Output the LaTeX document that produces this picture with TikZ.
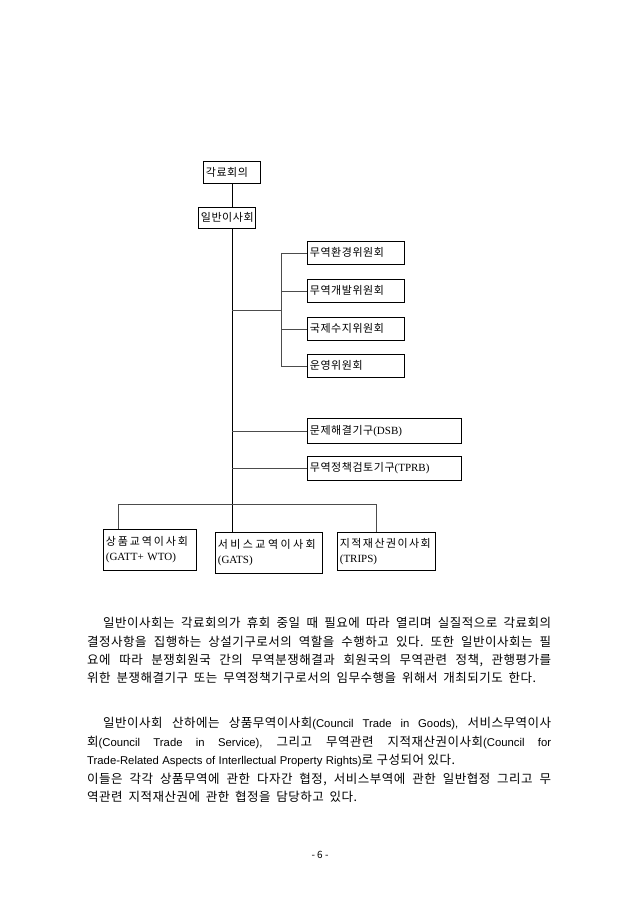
\documentclass[tikz,border=0pt]{standalone}
\usepackage{fontspec}
\setmainfont{Noto Sans CJK KR}
\newfontfamily\latsans{Liberation Sans}
\newfontfamily\latserif{Liberation Serif}
\newcommand\lt[1]{{\latsans\fontsize{11.3}{18}\selectfont #1}}
\newcommand\lb[1]{{\latserif #1}}
\frenchspacing
\begin{document}
\begin{tikzpicture}[x=1pt,y=-1pt,
  box/.style={draw=black, line width=0.7pt, anchor=north west, inner xsep=2.5pt, inner ysep=0pt,
              align=left, font=\fontsize{11}{15}\selectfont\addfontfeature{LetterSpace=5}},
  conn/.style={line width=0.7pt, draw=black!70},
  trunk/.style={line width=0.7pt, draw=black},
  pline/.style={anchor=base west, inner sep=0pt, font=\fontsize{12.5}{18}\selectfont\addfontfeature{LetterSpace=4}},
]
\useasboundingbox (0,0) rectangle (640,905);

% boxes
\node[box, text width=52pt, minimum height=22pt] (a) at (203,161) {각료회의};
\node[box, text width=52pt, minimum height=21pt] (b) at (198,207) {일반이사회};
\node[box, text width=92pt, minimum height=23pt] (c1) at (307,241) {무역환경위원회};
\node[box, text width=92pt, minimum height=23pt] (c2) at (307,279) {무역개발위원회};
\node[box, text width=92pt, minimum height=23pt] (c3) at (307,317) {국제수지위원회};
\node[box, text width=92pt, minimum height=23pt] (c4) at (307,354) {운영위원회};
\node[box, text width=149pt, minimum height=25pt] (d) at (307,418) {문제해결기구\lb{(DSB)}};
\node[box, text width=149pt, minimum height=24pt] (t) at (307,456) {무역정책검토기구\lb{(TPRB)}};
\node[box, text width=88pt, minimum height=41pt] (g) at (103,529)
  {{\addfontfeature{LetterSpace=17}상품교역이사회}\\\lb{(GATT+ WTO)}};
\node[box, text width=102pt, minimum height=41pt] (s) at (215,532)
  {{\addfontfeature{LetterSpace=22}서비스교역이사회}\\\lb{(GATS)}};
\node[box, text width=93pt, minimum height=38pt] (r) at (337,532)
  {{\addfontfeature{LetterSpace=13}지적재산권이사회}\\\lb{(TRIPS)}};

% connectors
\coordinate (tr) at (232,0);
\coordinate (sb) at (281,0);
\coordinate (jc) at (232,310);
\coordinate (bl) at (118,504);
\coordinate (brr) at (376,504);
\draw[trunk] (a.south) -- (a.south |- b.north);
\draw[trunk] (tr |- b.south) -- (tr |- s.north);
\draw[conn] (jc) -- (jc -| sb);
\draw[conn] (sb |- c1.west) -- (sb |- c4.west);
\foreach \n in {c1,c2,c3,c4} \draw[conn] (sb |- \n.west) -- (\n.west);
\draw[conn] (tr |- d.west) -- (d.west);
\draw[conn] (tr |- t.west) -- (t.west);
\draw[conn] (bl |- g.north) -- (bl) -- (brr) -- (brr |- r.north);

% paragraph 1
\node[pline] (p11) at (103,627) {\makebox[448pt][s]{일반이사회는 각료회의가 휴회 중일 때 필요에 따라 열리며 실질적으로 각료회의}};
\node[pline] (p12) at (87,646) {\makebox[464pt][s]{결정사항을 집행하는 상설기구로서의 역할을 수행하고 있다. 또한 일반이사회는 필}};
\node[pline] (p13) at (87,664) {\makebox[464pt][s]{요에 따라 분쟁회원국 간의 무역분쟁해결과 회원국의 무역관련 정책, 관행평가를}};
\node[pline] (p14) at (87,682) {\makebox[449pt][s]{위한 분쟁해결기구 또는 무역정책기구로서의 임무수행을 위해서 개최되기도 한다.}};

% paragraph 2
\node[pline] (p21) at (103,727) {\makebox[448pt][s]{일반이사회 산하에는 상품무역이사회\lt{(Council Trade in Goods),} 서비스무역이사}};
\node[pline] (p22) at (87,746) {\makebox[464pt][s]{회\lt{(Council Trade in Service),} 그리고 무역관련 지적재산권이사회\lt{(Council for}}};
\node[pline] (p23) at (87,764) {\makebox[368pt][s]{\lt{Trade-Related Aspects of Interllectual Property Rights)}로 구성되어 있다.}};
\node[pline] (p24) at (87,783) {\makebox[464pt][s]{이들은 각각 상품무역에 관한 다자간 협정, 서비스부역에 관한 일반협정 그리고 무}};
\node[pline] (p25) at (87,801) {\makebox[270pt][s]{역관련 지적재산권에 관한 협정을 담당하고 있다.}};

\node[font=\fontsize{10}{12}\selectfont, inner sep=0pt] (pg) at (320,855) {- 6 -};
\end{tikzpicture}
\end{document}
